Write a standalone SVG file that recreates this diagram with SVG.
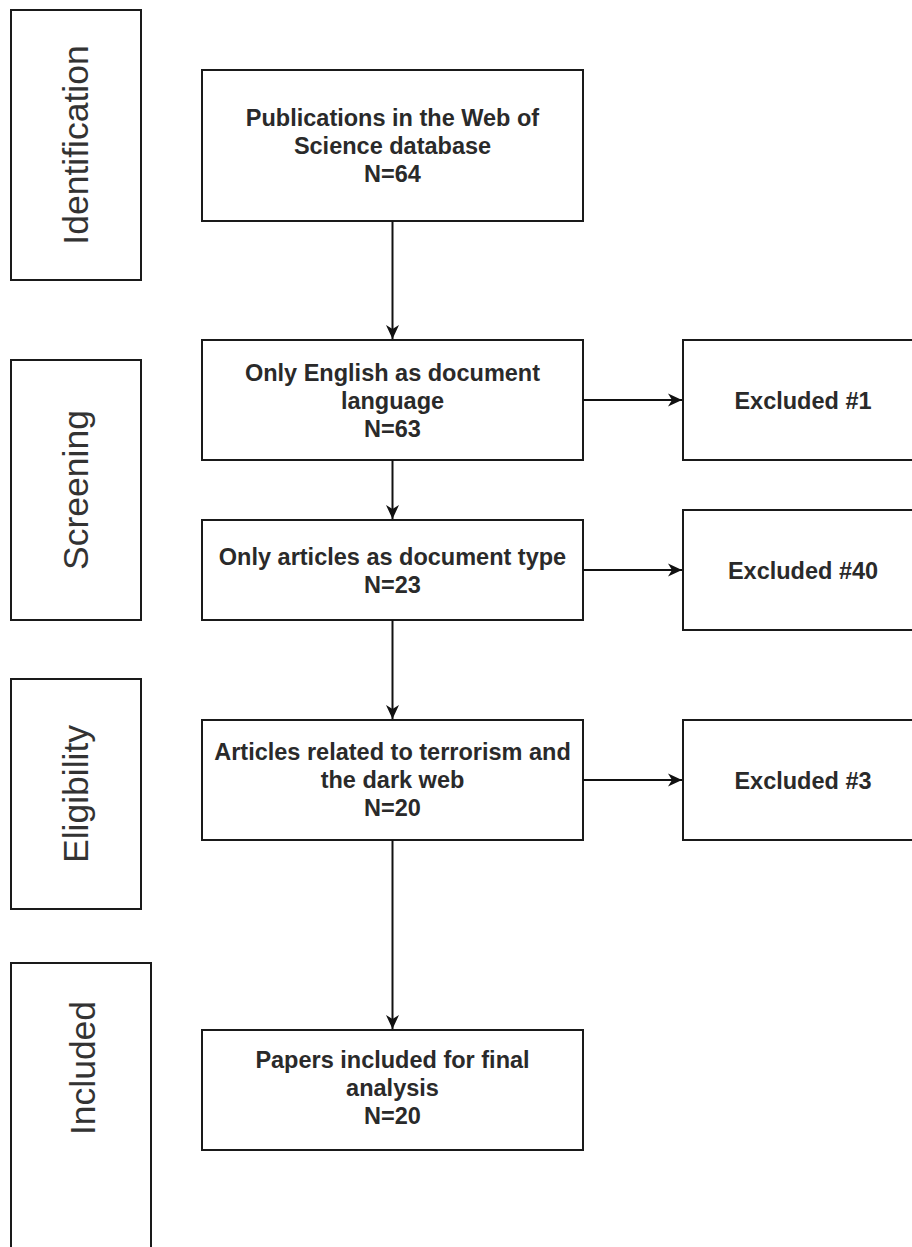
<svg xmlns="http://www.w3.org/2000/svg" width="912" height="1247" viewBox="0 0 912 1247">
<style>
.box{fill:#fff;stroke:#1a1a1a;stroke-width:2}
.t{font-family:"Liberation Sans",Arial,sans-serif;font-size:23.5px;font-weight:bold;fill:#2a2a2a;text-anchor:middle}
.side{font-family:"Liberation Sans",Arial,sans-serif;font-size:35.5px;fill:#333;text-anchor:middle}
.c{stroke:#111;stroke-width:2;fill:none}
</style>
<defs>
<marker id="arr" markerUnits="userSpaceOnUse" markerWidth="15" markerHeight="14" viewBox="0 0 15 14" refX="14" refY="7" orient="auto">
<path d="M0,0.5 L14,7 L0,13.5 L4,7 z" fill="#111"/>
</marker>
</defs>
<g id="identification"><rect class="box" x="11" y="10" width="130" height="270"/><text class="side" transform="translate(88,145) rotate(-90)">Identification</text></g>
<g id="screening"><rect class="box" x="11" y="360" width="130" height="260"/><text class="side" transform="translate(88,490) rotate(-90)">Screening</text></g>
<g id="eligibility"><rect class="box" x="11" y="679" width="130" height="230"/><text class="side" transform="translate(88,794) rotate(-90)">Eligibility</text></g>
<g id="included"><rect class="box" x="11" y="963" width="140" height="300"/><text class="side" transform="translate(95,1068) rotate(-90)">Included</text></g>
<g id="n1"><rect class="box" x="202" y="70" width="381" height="151"/><text class="t" x="392.5" y="126">Publications in the Web of</text><text class="t" x="392.5" y="154">Science database</text><text class="t" x="392.5" y="182">N=64</text></g>
<g id="n2"><rect class="box" x="202" y="340" width="381" height="120"/><text class="t" x="392.5" y="381">Only English as document</text><text class="t" x="392.5" y="409">language</text><text class="t" x="392.5" y="437">N=63</text></g>
<g id="n3"><rect class="box" x="202" y="520" width="381" height="100"/><text class="t" x="392.5" y="565">Only articles as document type</text><text class="t" x="392.5" y="593">N=23</text></g>
<g id="n4"><rect class="box" x="202" y="720" width="381" height="120"/><text class="t" x="392.5" y="760">Articles related to terrorism and</text><text class="t" x="392.5" y="788">the dark web</text><text class="t" x="392.5" y="816">N=20</text></g>
<g id="n5"><rect class="box" x="202" y="1030" width="381" height="120"/><text class="t" x="392.5" y="1068">Papers included for final</text><text class="t" x="392.5" y="1096">analysis</text><text class="t" x="392.5" y="1124">N=20</text></g>
<g id="e1"><rect class="box" x="683" y="340" width="240" height="120"/><text class="t" x="803" y="409">Excluded #1</text></g>
<g id="e2"><rect class="box" x="683" y="510" width="240" height="120"/><text class="t" x="803" y="579">Excluded #40</text></g>
<g id="e3"><rect class="box" x="683" y="720" width="240" height="120"/><text class="t" x="803" y="789">Excluded #3</text></g>
<g id="connectors">
<line class="c" x1="392.5" y1="221" x2="392.5" y2="339" marker-end="url(#arr)"/>
<line class="c" x1="392.5" y1="460" x2="392.5" y2="519" marker-end="url(#arr)"/>
<line class="c" x1="392.5" y1="620" x2="392.5" y2="719" marker-end="url(#arr)"/>
<line class="c" x1="392.5" y1="840" x2="392.5" y2="1029" marker-end="url(#arr)"/>
<line class="c" x1="583" y1="400" x2="682" y2="400" marker-end="url(#arr)"/>
<line class="c" x1="583" y1="570" x2="682" y2="570" marker-end="url(#arr)"/>
<line class="c" x1="583" y1="780" x2="682" y2="780" marker-end="url(#arr)"/>
</g>
</svg>
